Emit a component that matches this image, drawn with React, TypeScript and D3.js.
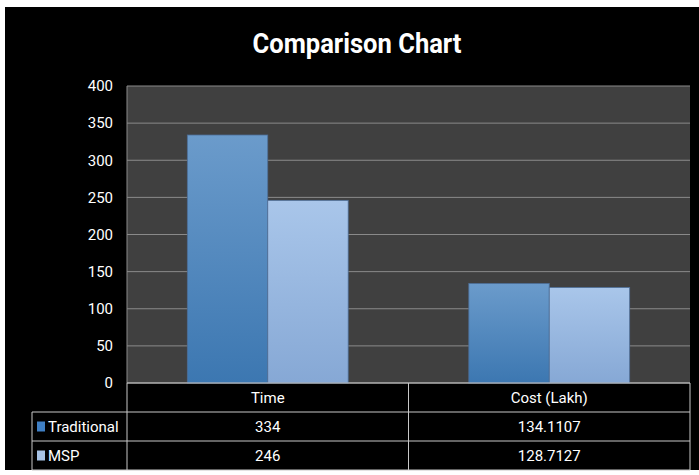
import * as React from "react";
import * as d3 from "d3";

const categories = ["Time", "Cost (Lakh)"];
const seriesNames = ["Traditional", "MSP"];
const traditional = [334, 134.1107];
const msp = [246, 128.7127];
const tableLabels = [["334", "134.1107"], ["246", "128.7127"]];
const yTicks = [0, 50, 100, 150, 200, 250, 300, 350, 400];

const font = "Roboto, 'Open Sans', sans-serif";
const gradients = [
	{ id: "gTrad", top: "#6b9bcb", bottom: "#3c77b1", key: "#3f7fc4" },
	{ id: "gMsp", top: "#a9c6ea", bottom: "#86a8d5", key: "#a7c3e6" },
];

function App() {
	const width = 699;
	const height = 475;
	const plot = { left: 127, right: 690, top: 86, bottom: 383 };
	const rowH = 29;
	const tableLeft = 32;

	const values = [traditional, msp];

	const yScale = d3.scaleLinear([0, 400], [plot.bottom, plot.top]);
	const xScale = d3
		.scaleBand<string>()
		.domain(categories)
		.range([plot.left, plot.right])
		.padding(0);
	const inner = d3
		.scaleBand<string>()
		.domain(seriesNames)
		.range([0, xScale.bandwidth()])
		.paddingInner(0)
		.paddingOuter(0.75);

	const rowTop = (i: number) => plot.bottom + rowH * i;
	const tableBottom = rowTop(3);

	return (
		<svg
			width={width}
			height={height}
			style={{ position: "absolute", left: 0, top: 0 }}
			fontFamily={font}
		>
			<defs>
				{gradients.map((g) => (
					<linearGradient key={g.id} id={g.id} x1="0" y1="0" x2="0" y2="1">
						<stop offset="0%" stopColor={g.top} />
						<stop offset="100%" stopColor={g.bottom} />
					</linearGradient>
				))}
			</defs>
			<rect width={width} height={height} fill="#ffffff" />
			<rect x={5} y={7} width={width - 5} height={463} fill="#000000" />
			<text
				x={357}
				y={53}
				fill="#ffffff"
				fontSize={28}
				fontWeight="bold"
				textAnchor="middle"
				textLength={209}
				lengthAdjust="spacingAndGlyphs"
			>
				Comparison Chart
			</text>

			{/* plot background */}
			<rect
				x={plot.left}
				y={plot.top}
				width={plot.right - plot.left}
				height={plot.bottom - plot.top}
				fill="#404040"
			/>
			{yTicks.map((t) => (
				<g key={t}>
					<line
						x1={plot.left}
						x2={plot.right}
						y1={yScale(t)}
						y2={yScale(t)}
						stroke="#8a8a8a"
						strokeWidth={1}
					/>
					<text
						x={113}
						y={yScale(t)}
						dy="0.35em"
						fill="#ffffff"
						fontSize={15}
						textAnchor="end"
					>
						{t}
					</text>
				</g>
			))}
			<line
				x1={plot.left}
				x2={plot.left}
				y1={plot.top}
				y2={plot.bottom}
				stroke="#8a8a8a"
			/>

			{/* bars */}
			{categories.map((c, ci) =>
				seriesNames.map((s, si) => {
					const v = values[si][ci];
					const x = (xScale(c) ?? 0) + (inner(s) ?? 0);
					return (
						<rect
							key={`${c}-${s}`}
							x={x}
							y={yScale(v)}
							width={inner.bandwidth()}
							height={yScale(0) - yScale(v)}
							fill={`url(#${gradients[si].id})`}
							stroke="#4d6d96"
							strokeWidth={0.8}
						/>
					);
				})
			)}

			{/* data table */}
			<g stroke="#c8c8c8" strokeWidth={1}>
				<line x1={plot.left} x2={plot.right} y1={rowTop(0)} y2={rowTop(0)} />
				{[1, 2, 3].map((r) => (
					<line key={r} x1={tableLeft} x2={plot.right} y1={rowTop(r)} y2={rowTop(r)} />
				))}
				<line x1={tableLeft} x2={tableLeft} y1={rowTop(1)} y2={tableBottom} />
				{[plot.left, ...categories.map((c) => (xScale(c) ?? 0) + xScale.bandwidth())].map(
					(x, i) => (
						<line key={i} x1={x} x2={x} y1={rowTop(0)} y2={tableBottom} />
					)
				)}
			</g>
			{categories.map((c) => (
				<text
					key={c}
					x={(xScale(c) ?? 0) + xScale.bandwidth() / 2}
					y={rowTop(0) + rowH / 2}
					dy="0.35em"
					fill="#ffffff"
					fontSize={15}
					textAnchor="middle"
				>
					{c}
				</text>
			))}
			{seriesNames.map((s, si) => (
				<g key={s}>
					<rect
						x={tableLeft + 5}
						y={rowTop(si + 1) + rowH / 2 - 5}
						width={8}
						height={10}
						fill={gradients[si].key}
					/>
					<text
						x={tableLeft + 16}
						y={rowTop(si + 1) + rowH / 2}
						dy="0.35em"
						fill="#ffffff"
						fontSize={15}
					>
						{s}
					</text>
					{categories.map((c, ci) => (
						<text
							key={c}
							x={(xScale(c) ?? 0) + xScale.bandwidth() / 2}
							y={rowTop(si + 1) + rowH / 2}
							dy="0.35em"
							fill="#ffffff"
							fontSize={15}
							textAnchor="middle"
						>
							{tableLabels[si][ci]}
						</text>
					))}
				</g>
			))}
		</svg>
	);
}

export default App;
